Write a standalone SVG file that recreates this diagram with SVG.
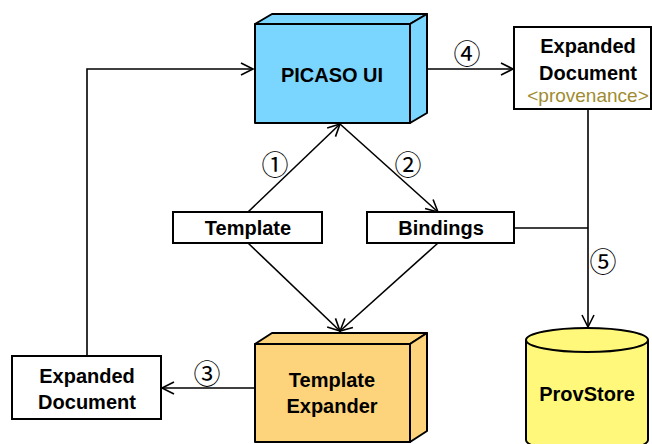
<svg xmlns="http://www.w3.org/2000/svg" width="652" height="444" viewBox="0 0 652 444">
<style>
.b{stroke:#000;stroke-width:2;stroke-linejoin:round}
.box{fill:#fff;stroke:#000;stroke-width:2}
.t{font-family:"Liberation Sans",Arial,sans-serif;font-weight:bold;font-size:20px;text-anchor:middle;fill:#000}
.p{font-family:"Liberation Sans",Arial,sans-serif;font-size:19px;text-anchor:middle;fill:#A08C30}
.n{font-family:"DejaVu Serif","Noto Sans CJK JP",serif;font-size:27px;text-anchor:middle;fill:#000}
.c{fill:none;stroke:#000;stroke-width:1.6}
</style>
<defs>
<marker id="ah" viewBox="0 0 14 14" refX="13" refY="7" markerWidth="14" markerHeight="14" markerUnits="userSpaceOnUse" orient="auto" overflow="visible">
<path d="M1,1 L13,7 L1,13" fill="none" stroke="#000" stroke-width="1.6"/>
</marker>
</defs>
<g id="connectors">
<polyline class="c" points="87,356 87,69 253,69" marker-end="url(#ah)"/>
<line class="c" x1="410" y1="69" x2="513" y2="69" marker-end="url(#ah)"/>
<line class="c" x1="248" y1="212" x2="340" y2="124" marker-end="url(#ah)"/>
<line class="c" x1="340" y1="124" x2="438" y2="212" marker-end="url(#ah)"/>
<line class="c" x1="248" y1="243" x2="340" y2="331" marker-end="url(#ah)"/>
<line class="c" x1="438" y1="243" x2="340" y2="331" marker-end="url(#ah)"/>
<line class="c" x1="255" y1="388" x2="162" y2="388" marker-end="url(#ah)"/>
<line class="c" x1="588" y1="109" x2="588" y2="327" marker-end="url(#ah)"/>
<line class="c" x1="514" y1="228" x2="588" y2="228"/>
<text class="n" x="275" y="175">①</text>
<text class="n" x="408" y="175">②</text>
<text class="n" x="207" y="384">③</text>
<text class="n" x="467" y="64">④</text>
<text class="n" x="603" y="272">⑤</text>
</g>
<g id="picaso">
<rect class="b" x="255" y="24" width="155" height="99" fill="#7AD6FF"/>
<polygon class="b" points="255,24 272,14 427,14 410,24" fill="#7AD6FF"/>
<polygon class="b" points="410,24 427,14 427,113 410,123" fill="#7AD6FF"/>
<text class="t" x="332" y="82">PICASO UI</text>
</g>
<g id="expanded-doc-top">
<rect class="box" x="514" y="27" width="137" height="82"/>
<text class="t" x="588" y="53">Expanded</text>
<text class="t" x="588" y="80">Document</text>
<text class="p" x="588" y="102">&lt;provenance&gt;</text>
</g>
<g id="template">
<rect class="box" x="173" y="212" width="149" height="31"/>
<text class="t" x="248" y="235">Template</text>
</g>
<g id="bindings">
<rect class="box" x="367" y="212" width="147" height="31"/>
<text class="t" x="441" y="235">Bindings</text>
</g>
<g id="template-expander">
<rect class="b" x="255" y="344" width="155" height="98" fill="#FDD47C"/>
<polygon class="b" points="255,344 272,333 427,333 410,344" fill="#FDD47C"/>
<polygon class="b" points="410,344 427,333 427,431 410,442" fill="#FDD47C"/>
<text class="t" x="332" y="387">Template</text>
<text class="t" x="332" y="413">Expander</text>
</g>
<g id="expanded-doc-bottom">
<rect class="box" x="12" y="356" width="149" height="63"/>
<text class="t" x="87" y="383">Expanded</text>
<text class="t" x="87" y="409">Document</text>
</g>
<g id="provstore">
<path class="b" d="M526,340 L526,440 A61,12 0 0,0 648,440 L648,340" fill="#FFF87A"/>
<ellipse class="b" cx="587" cy="340" rx="61" ry="12" fill="#FFF87A"/>
<text class="t" x="587" y="401">ProvStore</text>
</g>
</svg>
